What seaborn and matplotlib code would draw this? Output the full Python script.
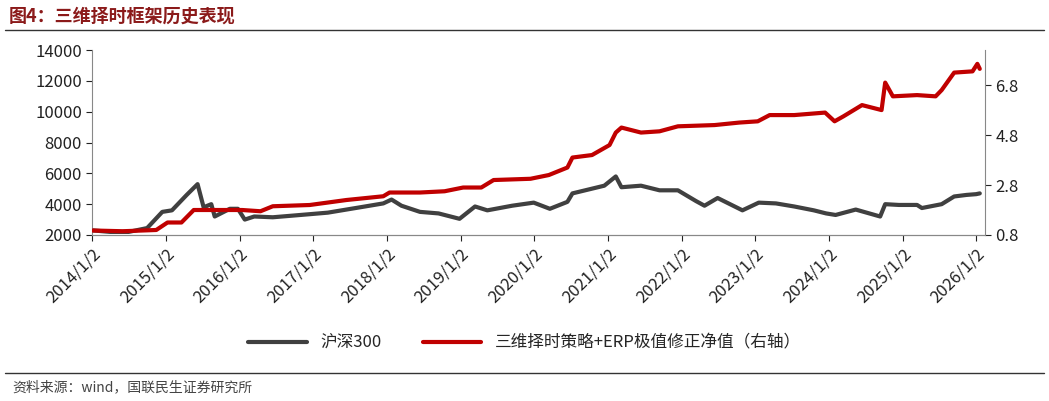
import numpy as np
import pandas as pd
import matplotlib
matplotlib.use("Agg")
from matplotlib import pyplot as plt
import matplotlib.dates as mdates
import seaborn as sns

hs_dates = ["2014-01-02", "2014-04-01", "2014-07-01", "2014-10-01", "2014-12-15", "2015-02-01",
            "2015-04-15", "2015-06-08", "2015-07-08", "2015-08-15", "2015-09-01", "2015-11-15",
            "2015-12-25", "2016-01-28", "2016-03-15", "2016-06-15", "2016-09-15", "2016-12-15",
            "2017-03-15", "2017-06-15", "2017-09-15", "2017-12-15", "2018-01-25", "2018-03-15",
            "2018-06-15", "2018-09-15", "2018-12-28", "2019-03-15", "2019-05-15", "2019-09-15",
            "2019-12-31", "2020-03-20", "2020-06-15", "2020-07-10", "2020-12-15", "2021-02-10",
            "2021-03-10", "2021-06-15", "2021-09-15", "2021-12-15", "2022-03-15", "2022-04-26",
            "2022-06-30", "2022-10-31", "2023-01-20", "2023-04-15", "2023-07-15", "2023-10-20",
            "2023-12-20", "2024-02-05", "2024-05-15", "2024-09-13", "2024-10-08", "2024-12-15",
            "2025-03-15", "2025-04-08", "2025-07-15", "2025-09-15", "2025-11-15", "2026-01-02",
            "2026-01-20"]
hs300 = [2300, 2200, 2200, 2450, 3500, 3600, 4600, 5300, 3800, 4000, 3200, 3700,
         3700, 3000, 3200, 3150, 3250, 3350, 3450, 3650, 3850, 4050, 4300, 3900,
         3500, 3400, 3050, 3850, 3600, 3900, 4100, 3700, 4150, 4700, 5200, 5800,
         5100, 5200, 4900, 4900, 4200, 3900, 4400, 3600, 4100, 4050, 3850, 3600,
         3400, 3300, 3650, 3200, 4000, 3950, 3950, 3750, 4000, 4500, 4600, 4650, 4700]

st_dates = ["2014-01-02", "2014-06-01", "2014-11-15", "2015-01-10", "2015-03-20", "2015-05-20",
            "2015-07-15", "2016-01-15", "2016-04-15", "2016-06-15", "2016-12-15", "2017-06-15",
            "2017-12-15", "2018-01-15", "2018-06-15", "2018-10-15", "2019-01-15", "2019-04-15",
            "2019-06-15", "2019-12-15", "2020-03-15", "2020-06-15", "2020-07-10", "2020-10-15",
            "2021-01-10", "2021-02-10", "2021-03-10", "2021-06-15", "2021-09-15", "2021-12-15",
            "2022-06-15", "2022-10-15", "2023-01-15", "2023-03-15", "2023-07-15", "2023-12-15",
            "2024-01-31", "2024-03-15", "2024-06-15", "2024-09-20", "2024-10-08", "2024-11-15",
            "2025-03-15", "2025-06-15", "2025-07-15", "2025-09-15", "2025-12-15", "2026-01-08",
            "2026-01-20"]
strategy = [0.98, 0.95, 1.0, 1.3, 1.3, 1.8, 1.8, 1.8, 1.75, 1.95, 2.0, 2.2,
            2.35, 2.5, 2.5, 2.55, 2.7, 2.7, 3.0, 3.05, 3.2, 3.5, 3.9, 4.0,
            4.4, 4.9, 5.1, 4.9, 4.95, 5.15, 5.2, 5.3, 5.35, 5.6, 5.6, 5.7,
            5.35, 5.55, 6.0, 5.8, 6.9, 6.35, 6.4, 6.35, 6.6, 7.3, 7.35, 7.65, 7.45]

hs = pd.DataFrame({"date": pd.to_datetime(hs_dates), "value": hs300})
st = pd.DataFrame({"date": pd.to_datetime(st_dates), "value": strategy})

sns.set_style("white")
plt.rcParams["font.family"] = ["Noto Sans CJK SC", "DejaVu Sans"]

fig = plt.figure(figsize=(10.49, 4.01), dpi=100)
ax = fig.add_axes([0.088, 0.414, 0.851, 0.461])
ax2 = ax.twinx()
sns.lineplot(data=hs, x="date", y="value", ax=ax, color="#404040", lw=3, label="沪深300", legend=False)
sns.lineplot(data=st, x="date", y="value", ax=ax2, color="#C00000", lw=3,
             label="三维择时策略+ERP极值修正净值（右轴）", legend=False)

ax.set_ylim(2000, 14000)
ax.set_yticks(range(2000, 14001, 2000))
ax2.set_ylim(0.8, 8.2)
ax2.set_yticks([0.8, 2.8, 4.8, 6.8])
ax2.set_yticklabels(["0.8", "2.8", "4.8", "6.8"])
ax.set_xlim(pd.Timestamp("2014-01-02"), pd.Timestamp("2026-02-15"))
ticks = [pd.Timestamp(f"{y}-01-02") for y in range(2014, 2027)]
ax.set_xticks(ticks)
ax.set_xticklabels([f"{y}/1/2" for y in range(2014, 2027)], rotation=45, ha="right", rotation_mode="anchor")
for a in (ax, ax2):
    a.set_xlabel("")
    a.set_ylabel("")
    a.tick_params(labelsize=12, colors="#222222", length=4)
    for s in a.spines.values():
        s.set_visible(False)
    a.spines["bottom"].set_visible(True)
    a.spines["bottom"].set_color("#888888")
ax.spines["left"].set_visible(True)
ax.spines["left"].set_color("#888888")
ax2.spines["right"].set_visible(True)
ax2.spines["right"].set_color("#888888")
ax.tick_params(axis="x", bottom=True, direction="out")
ax.tick_params(axis="y", left=True)
ax2.tick_params(axis="y", right=True)

h1, l1 = ax.get_legend_handles_labels()
h2, l2 = ax2.get_legend_handles_labels()
fig.legend(h1 + h2, l1 + l2, loc="center", bbox_to_anchor=(0.5, 0.145), ncol=2, frameon=False,
           fontsize=12, handlelength=3.5, columnspacing=2.5)

fig.text(0.008, 0.96, "图4：三维择时框架历史表现", fontsize=13, fontweight="bold", color="#8B1A1A", va="center")
fig.add_artist(plt.Line2D([0.005, 0.995], [0.925, 0.925], color="#333333", lw=1))
fig.add_artist(plt.Line2D([0.005, 0.995], [0.07, 0.07], color="#333333", lw=1))
fig.text(0.012, 0.035, "资料来源：wind，国联民生证券研究所", fontsize=10, color="#444444", va="center")

fig.savefig("out.png", dpi=100)
